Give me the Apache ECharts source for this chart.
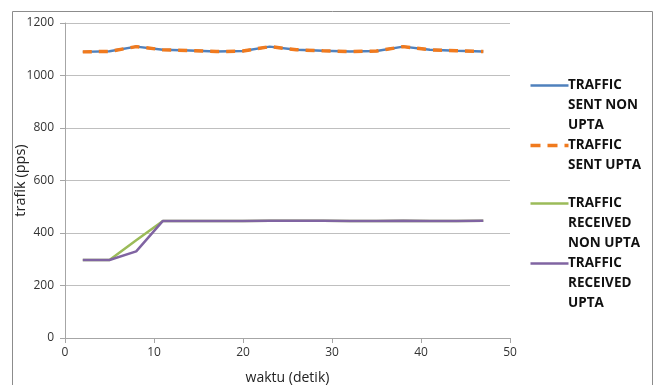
<!DOCTYPE html>
<html><head><meta charset="utf-8">
<script src="https://cdn.jsdelivr.net/npm/echarts@6/dist/echarts.min.js"></script>
<style>html,body{margin:0;padding:0;background:#fff}#c{width:657px;height:385px}</style>
</head><body><div id="c"></div>
<script>
const times = [2,5,8,11,14,17,20,23,26,29,32,35,38,41,44,47];
const sentNonUpta = [1090,1092,1110,1098,1095,1091,1093,1110,1098,1094,1091,1093,1110,1098,1094,1091];
const sentUpta    = [1090,1092,1110,1098,1095,1091,1093,1110,1098,1094,1091,1093,1110,1098,1094,1091];
const recvNonUpta = [297,297,372,446,446,446,446,447,447,447,446,446,447,446,446,447];
const recvUpta    = [297,297,330,446,446,446,446,447,447,447,446,446,447,446,446,447];
const seriesNames = ['TRAFFIC\nSENT NON\nUPTA','TRAFFIC\nSENT UPTA','TRAFFIC\nRECEIVED\nNON UPTA','TRAFFIC\nRECEIVED\nUPTA'];
const colors = ['#4F81BD','#F07A1E','#9BBB59','#8064A2'];
const xTicks = [0,10,20,30,40,50];
const yTicks = [0,200,400,600,800,1000,1200];

const pair = a => times.map((t,i)=>[t,a[i]]);
const datasets = [sentNonUpta, sentUpta, recvNonUpta, recvUpta];
const widths = [2.5,3.5,2.5,2.5];
const types = ['solid',[9,7],'solid','solid'];

const legendY = [85,145,203,263];
const legendEls = [];
seriesNames.forEach((n,i)=>{
  legendEls.push({type:'line', left:528, top:legendY[i]-2, shape:{x1:0,y1:0,x2:38,y2:0},
    style:{stroke:colors[i], lineWidth:widths[i], lineDash: i===1?[10,7]:null}});
  legendEls.push({type:'text', left:568, top:legendY[i]-10,
    style:{text:n, fill:'#111', font:'bold 13.5px "Open Sans"', lineHeight:20}});
});
legendEls.push({type:'rect', shape:{x:12.5,y:11.5,width:640,height:380}, style:{fill:null, stroke:'#8c8c8c', lineWidth:1}});

const chart = echarts.init(document.getElementById('c'));
chart.setOption({
  animation:false,
  backgroundColor:'#fff',
  grid:{left:65,right:147,top:23,bottom:47,containLabel:false,outerBoundsMode:'none'},
  xAxis:{type:'value',min:0,max:50,interval:10,
    name:'waktu (detik)',nameLocation:'middle',nameGap:33,nameMoveOverlap:false,
    nameTextStyle:{fontFamily:'Open Sans',fontSize:14,color:'#222'},
    axisLine:{lineStyle:{color:'#a6a6a6'}},
    axisTick:{show:true,length:5,lineStyle:{color:'#a6a6a6'}},
    axisLabel:{fontFamily:'Open Sans',fontSize:12,color:'#333',margin:9,
      formatter:v=>xTicks.includes(v)?String(v):''},
    splitLine:{show:false}},
  yAxis:{type:'value',min:0,max:1200,interval:200,
    name:'trafik (pps)',nameLocation:'middle',nameGap:37,nameMoveOverlap:false,
    nameTextStyle:{fontFamily:'Open Sans',fontSize:14.5,color:'#222'},
    axisLine:{show:true,lineStyle:{color:'#a6a6a6'}},
    axisTick:{show:true,length:5,lineStyle:{color:'#a6a6a6'}},
    axisLabel:{fontFamily:'Open Sans',fontSize:12,color:'#333',margin:11,
      formatter:v=>yTicks.includes(v)?String(v):''},
    splitLine:{lineStyle:{color:'#bfbfbf'}}},
  series: datasets.map((d,i)=>({
    name:seriesNames[i], type:'line', data:pair(d), symbol:'none', z:2+i,
    lineStyle:{color:colors[i], width:widths[i], type:types[i]}
  })),
  graphic: legendEls
});
</script></body></html>
